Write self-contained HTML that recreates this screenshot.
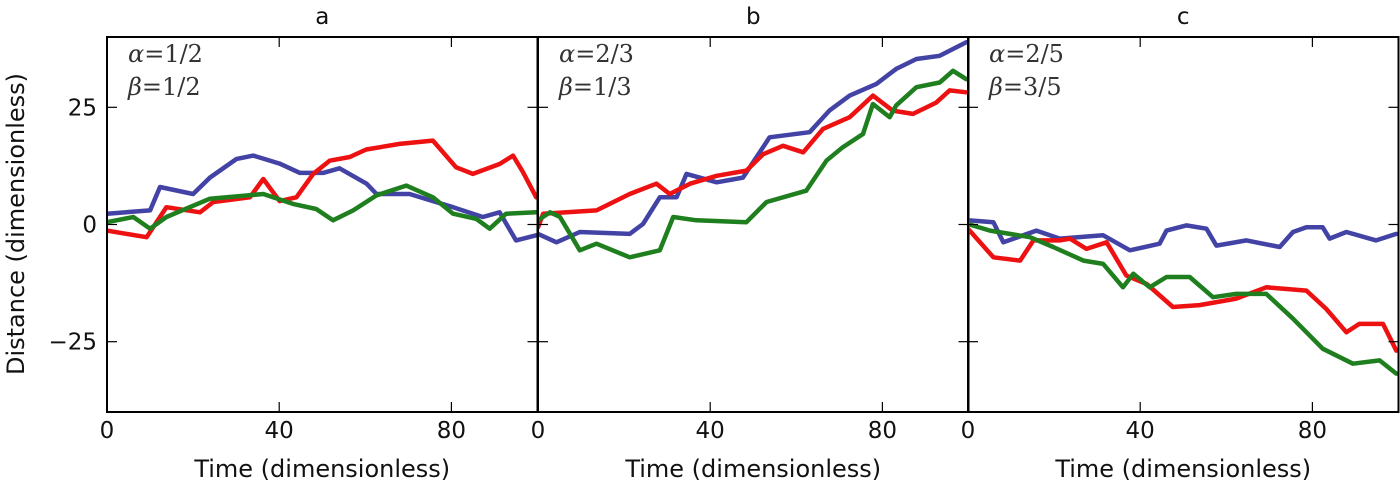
<!DOCTYPE html>
<html><head><meta charset="utf-8">
<style>
html,body{margin:0;padding:0;background:#fff;width:1400px;height:485px;overflow:hidden}
svg{display:block}
text{font-family:"DejaVu Sans","Liberation Sans",sans-serif;fill:#111}
.ann{font-family:"DejaVu Serif","Liberation Serif",serif;fill:#333}
</style></head><body>
<svg id="chart" width="1400" height="485"></svg>
<script>
const panelTitles = ["a","b","c"];
const alphaLabels = ["1/2","2/3","2/5"];
const betaLabels = ["1/2","1/3","3/5"];
const xTicks = [0,40,80];
const yTicks = [25,0,-25];
const yTickLabels = ["25","0","\u221225"];
const seriesColors = ["#4343a6","#ee1111","#1f7f1f"];
const seriesNames = ["blue","red","green"];

const aBlueT = [0,10,12.3,20,23.9,30.1,34,40.1,44.8,50.2,54,60.3,62.6,70.3,75.7,80.4,87.3,91.2,95,99.7];
const aBlueV = [2.3,3,8,6.5,10,14,14.7,13,11,11,12,8.7,6.5,6.5,5,3.7,1.6,2.6,-3.4,-2.3];
const aRedT = [0,9.2,13.8,21.6,24.7,33.2,36.3,40.1,44,47.9,51.7,56.4,60.2,68,75.7,81.1,85,91.2,94.3,96.6,99.7];
const aRedV = [-1.3,-2.7,3.7,2.6,4.8,5.8,9.7,5,5.8,10.8,13.6,14.4,16,17.2,17.9,12.2,10.8,12.9,14.7,11.2,5.8];
const aGreenT = [0,6.1,10,13.8,23.9,36.3,43.2,48.6,52.5,57.2,62.6,69.5,75.7,80.4,85.8,88.9,92.7,99.7];
const aGreenV = [0.5,1.6,-0.9,1.6,5.5,6.5,4.4,3.3,0.9,3,6.2,8.3,5.8,2.3,1.2,-0.9,2.3,2.6];

const bBlueT = [0,4.3,9.7,21.3,24.4,28.3,32.2,34.5,41.5,47.6,53.8,63.1,67.7,72.4,78.6,83.2,87.9,93.3,99.5];
const bBlueV = [-2,-3.8,-1.6,-2,0.1,5.8,5.8,10.8,9,10,18.6,19.7,24.3,27.5,30,33.2,35.3,36,38.9];
const bRedT = [0,1.2,13.6,21.3,27.5,30.6,35.3,41.5,48.4,52.3,56.9,61.6,66.2,72.4,77.8,82.4,87.1,92.5,95.6,99.5];
const bRedV = [-0.6,2.3,3,6.5,8.7,6.5,8.7,10.4,11.5,15,16.8,15.4,20.4,22.9,27.5,24.3,23.6,26,28.6,28.2];
const bGreenT = [0,2.8,5.1,9.7,13.6,21.3,28.3,31.4,36.8,48.4,53.1,62.3,67,70.8,75.5,77.8,81.7,83.2,87.9,93.3,96.4,99.5];
const bGreenV = [0.9,2.6,1.6,-5.5,-4.1,-7,-5.5,1.6,0.9,0.5,4.8,7.2,13.6,16.5,19.3,25.7,22.9,25.4,29.3,30.3,32.8,31];

const cBlueT = [0,5.9,8.2,15.9,21.3,31.4,37.6,44.5,46.1,50.7,55.4,57.7,64.7,72.4,75.5,78.6,82.4,84,87.9,94.8,99.5];
const cBlueV = [0.9,0.5,-3.8,-1.3,-3,-2.3,-5.5,-4.1,-1.3,-0.2,-0.9,-4.5,-3.4,-4.8,-1.6,-0.6,-0.6,-3,-1.6,-3.4,-2];
const cRedT = [0,5.9,12.1,15.2,21.3,23.7,27.5,32.2,36.8,41.5,47.6,53.8,62.3,69.3,78.6,83.2,87.9,90.9,96.4,99.5];
const cRedV = [-0.9,-7,-7.7,-3.4,-3.4,-3,-5.2,-3.8,-10.9,-12.7,-17.6,-17.2,-15.8,-13.4,-14.1,-18,-23,-21.2,-21.2,-26.9];
const cGreenT = [0,5.1,14.4,19.8,26.8,31.4,36,38.4,42.2,46.1,51.5,56.9,62.3,69.3,75.5,82.4,89.4,95.6,99.5];
const cGreenV = [0.1,-1.3,-2.7,-4.8,-7.7,-8.4,-13.4,-10.5,-13.4,-11.2,-11.2,-15.5,-14.8,-14.8,-20.1,-26.5,-29.7,-29,-31.8];

const panelSeries = [
  [[aBlueT,aBlueV],[aRedT,aRedV],[aGreenT,aGreenV]],
  [[bBlueT,bBlueV],[bRedT,bRedV],[bGreenT,bGreenV]],
  [[cBlueT,cBlueV],[cRedT,cRedV],[cGreenT,cGreenV]]
];

const NS = "http://www.w3.org/2000/svg";
const svg = document.getElementById("chart");
const panelLeft = [107,538,968], panelW = 430.5, plotTop = 37, plotBottom = 412;
const xMin = 0, xMax = 100, yMin = -40, yMax = 40;
function mk(tag, attrs, parent){const e=document.createElementNS(NS,tag);for(const k in attrs)e.setAttribute(k,attrs[k]);(parent||svg).appendChild(e);return e;}
function xScale(p,t){return panelLeft[p] + (t - xMin)/(xMax - xMin)*panelW;}
function yScale(v){return plotBottom - (v - yMin)/(yMax - yMin)*(plotBottom - plotTop);}

for (let p=0;p<3;p++){
  const g = mk("g",{});
  
  
  const clipId = "clip"+p;
  const cp = mk("clipPath",{id:clipId},g);
  mk("rect",{x:panelLeft[p],y:plotTop,width:panelW,height:plotBottom-plotTop},cp);
  const lines = mk("g",{"clip-path":"url(#"+clipId+")"},g);
  panelSeries[p].forEach((s,i)=>{
    const T=s[0], V=s[1];
    let d="";
    for(let k=0;k<T.length;k++){
      const x=xScale(p,T[k]), y=yScale(V[k]);
      d += (k===0?"M":"L")+x.toFixed(1)+","+y.toFixed(1);
    }
    const path = mk("path",{d:d,fill:"none",stroke:seriesColors[i],"stroke-width":4.5,"stroke-linejoin":"round","stroke-linecap":"round"},lines);
    
    
  });
  const frame = mk("rect",{x:panelLeft[p],y:plotTop,width:panelW,height:plotBottom-plotTop,fill:"none",stroke:"#000","stroke-width":2},g);
  
  
  xTicks.forEach(t=>{
    const x=xScale(p,t);
    mk("line",{x1:x,x2:x,y1:plotBottom,y2:plotBottom-10,stroke:"#000","stroke-width":1.2},g);
    mk("line",{x1:x,x2:x,y1:plotTop,y2:plotTop+10,stroke:"#000","stroke-width":1.2},g);
    const tl = mk("text",{x:x,y:438,"text-anchor":"middle","font-size":23},g);
    tl.textContent = String(t);
    
    
  });
  yTicks.forEach((v,i)=>{
    const y=yScale(v);
    mk("line",{x1:panelLeft[p],x2:panelLeft[p]+10,y1:y,y2:y,stroke:"#000","stroke-width":1.2},g);
    mk("line",{x1:panelLeft[p]+panelW,x2:panelLeft[p]+panelW-10,y1:y,y2:y,stroke:"#000","stroke-width":1.2},g);
    if(p===0){
      const yl = mk("text",{x:97,y:y+8,"text-anchor":"end","font-size":23},g);
      yl.textContent = yTickLabels[i];
      
      
    }
  });
  const title = mk("text",{x:panelLeft[p]+panelW/2,y:24,"text-anchor":"middle","font-size":23},g);
  title.textContent = panelTitles[p];
  
  
  const a1 = mk("text",{x:panelLeft[p]+21,y:62,"font-size":24,class:"ann"},g);
  const a1s = mk("tspan",{"font-style":"italic"},a1);
  a1s.textContent = "\u03b1";
  a1.appendChild(document.createTextNode("=" + alphaLabels[p]));
  
  
  const b1 = mk("text",{x:panelLeft[p]+21,y:95,"font-size":24,class:"ann"},g);
  const b1s = mk("tspan",{"font-style":"italic"},b1);
  b1s.textContent = "\u03b2";
  b1.appendChild(document.createTextNode("=" + betaLabels[p]));
  
  
  const xt = mk("text",{x:panelLeft[p]+panelW/2,y:477,"text-anchor":"middle","font-size":24},g);
  xt.textContent = "Time (dimensionless)";
  
  
}
const yt = mk("text",{x:0,y:0,"text-anchor":"middle","font-size":24,transform:"translate(24,224) rotate(-90)"});
yt.textContent = "Distance (dimensionless)";


</script>
</body></html>
